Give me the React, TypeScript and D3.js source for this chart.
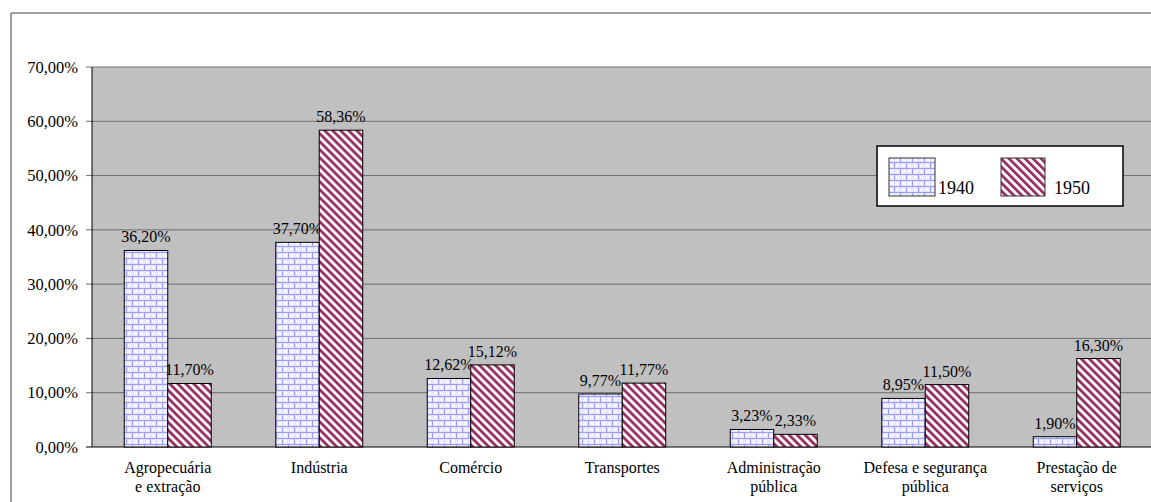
import React from "react";
import * as d3 from "d3";

const categories: string[][] = [
  ["Agropecuária", "e extração"],
  ["Indústria"],
  ["Comércio"],
  ["Transportes"],
  ["Administração", "pública"],
  ["Defesa e segurança", "pública"],
  ["Prestação de", "serviços"],
];
const series = ["1940", "1950"];
const values1940 = [0.362, 0.377, 0.1262, 0.0977, 0.0323, 0.0895, 0.019];
const values1950 = [0.117, 0.5836, 0.1512, 0.1177, 0.0233, 0.115, 0.163];
const yTicks = [0, 0.1, 0.2, 0.3, 0.4, 0.5, 0.6, 0.7];

const W = 1151;
const H = 502;
const left = 92;
const top = 67;
const bottom = 447;
const step = 151.5;
const FONT = "Times New Roman, Liberation Serif, Tinos, DejaVu Serif, serif";

const fmt = (v: number) => (v * 100).toFixed(2).replace(".", ",") + "%";

export default function App() {
  const keys = categories.map((c) => c.join(" "));
  const x = d3
    .scaleBand<string>()
    .domain(keys)
    .range([left, left + step * keys.length])
    .paddingInner(0.426)
    .paddingOuter(0.213);
  const xs = d3.scaleBand<string>().domain(series).range([0, x.bandwidth()]);
  const y = d3.scaleLinear().domain([0, 0.7]).range([bottom, top]);
  const data = [values1940, values1950];
  const fills = ["url(#brick)", "url(#stripe)"];

  return (
    <svg
      width={W}
      height={H}
      style={{ position: "absolute", left: 0, top: 0, display: "block" }}
    >
      <defs>
        <pattern id="brick" patternUnits="userSpaceOnUse" width={12} height={12}>
          <rect width={12} height={12} fill="#e6e6ff" />
          <line x1={0} y1={0.5} x2={12} y2={0.5} stroke="#9c9cff" strokeWidth={1} />
          <line x1={0} y1={6.5} x2={12} y2={6.5} stroke="#9c9cff" strokeWidth={1} />
          <line x1={0.5} y1={0} x2={0.5} y2={6} stroke="#9c9cff" strokeWidth={1} />
          <line x1={6.5} y1={6} x2={6.5} y2={12} stroke="#9c9cff" strokeWidth={1} />
          <rect x={2} y={2} width={3} height={3} fill="#f6f6ff" />
          <rect x={8} y={2} width={3} height={3} fill="#f6f6ff" />
          <rect x={2} y={8} width={3} height={3} fill="#f6f6ff" />
          <rect x={8} y={8} width={3} height={3} fill="#f6f6ff" />
        </pattern>
        <pattern
          id="stripe"
          patternUnits="userSpaceOnUse"
          width={5.66}
          height={5.66}
          patternTransform="rotate(-45)"
        >
          <rect width={5.66} height={5.66} fill="#ffffff" />
          <rect width={2.9} height={5.66} fill="#993366" />
        </pattern>
      </defs>

      <rect x={0} y={0} width={W} height={H} fill="#ffffff" />
      <line x1={11} y1={13} x2={W} y2={13} stroke="#808080" strokeWidth={1.5} />
      <line x1={11} y1={13} x2={11} y2={H} stroke="#808080" strokeWidth={1.5} />

      <rect x={left} y={top} width={W - left} height={bottom - top} fill="#c0c0c0" />
      <g fontFamily={FONT}>
        {yTicks.map((t) => (
          <g key={t}>
            <line
              x1={left - 6}
              x2={W}
              y1={y(t)}
              y2={y(t)}
              stroke={t === 0 ? "#000000" : "#6e6e6e"}
              strokeWidth={1}
            />
            <text x={78} y={y(t)} dy="0.35em" textAnchor="end" fontSize={16.5} fill="#000">
              {fmt(t)}
            </text>
          </g>
        ))}
        <line x1={left} x2={left} y1={top} y2={bottom} stroke="#000" strokeWidth={1} />

        {keys.map((k, i) => (
          <g key={k}>
            {series.map((s, j) => {
              const v = data[j][i];
              const bx = (x(k) as number) + (xs(s) as number);
              const by = y(v);
              return (
                <g key={s}>
                  <rect
                    x={bx}
                    y={by}
                    width={xs.bandwidth()}
                    height={bottom - by}
                    fill={fills[j]}
                    stroke="#000"
                    strokeWidth={1}
                  />
                  <text
                    x={bx + xs.bandwidth() / 2}
                    y={by - 8}
                    textAnchor="middle"
                    fontSize={16}
                    fill="#000"
                  >
                    {fmt(v)}
                  </text>
                </g>
              );
            })}
            {categories[i].map((line, li) => (
              <text
                key={li}
                x={(x(k) as number) + x.bandwidth() / 2}
                y={473 + li * 19}
                textAnchor="middle"
                fontSize={16}
                fill="#000"
              >
                {line}
              </text>
            ))}
          </g>
        ))}

        <rect x={877} y={146} width={246} height={60} fill="#fff" stroke="#000" strokeWidth={1.5} />
        <rect x={889} y={158} width={46} height={38} fill="url(#brick)" stroke="#333" strokeWidth={1} />
        <text x={938} y={194} fontSize={18} fill="#000">
          {series[0]}
        </text>
        <rect x={1001} y={158} width={44} height={38} fill="url(#stripe)" stroke="#333" strokeWidth={1} />
        <text x={1054} y={194} fontSize={18} fill="#000">
          {series[1]}
        </text>
      </g>
    </svg>
  );
}
